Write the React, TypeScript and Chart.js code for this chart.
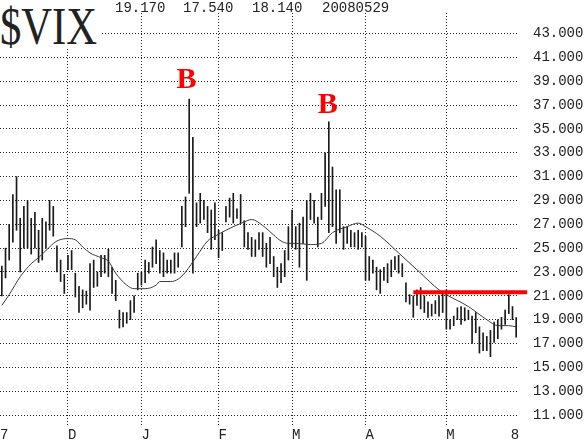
import React, { useEffect, useRef } from 'react';
import { Chart, registerables } from 'chart.js';

Chart.register(...registerables);

// Daily high / low of $VIX, 6 Nov 2007 .. 29 May 2008 (one entry per trading day)
const HIGHS = [
  23.5, 25.0, 27.0, 29.5, 31.0, 27.5, 28.5, 29.0, 27.5, 28.0, 26.5, 27.5, 27.2, 29.0, 28.5, 25.2, 24.0, 22.8,
  24.4, 24.8, 22.9, 21.8, 21.5, 21.4, 23.7, 24.0, 23.0, 24.4, 24.4, 24.9, 23.4, 22.3, 19.8, 19.6, 19.6, 20.6, 21.0, 22.9,
  23.0, 24.0, 23.8, 25.1, 25.7, 24.8, 24.6, 24.0, 24.0, 24.6, 24.6, 28.5, 29.3, 37.5, 34.3, 28.8, 29.6, 29.0, 28.5, 28.2, 28.8,
  26.5, 26.3, 28.5, 29.2, 29.6, 28.3, 29.5, 27.3, 26.3, 25.9, 25.7, 26.3, 26.3, 25.4, 25.9, 24.3, 23.4, 23.7, 24.8, 26.8,
  28.2, 26.8, 27.1, 27.6, 29.0, 29.6, 29.0, 27.6, 29.6, 33.0, 35.6, 31.8, 29.9, 29.9, 26.8, 26.8, 26.5, 26.3, 26.5, 26.3,
  26.0, 24.3, 24.0, 23.4, 23.2, 23.4, 23.7, 24.0, 24.3, 24.4, 23.7, 22.1, 21.1, 21.0, 21.5, 21.7, 21.0, 20.5, 20.3, 20.6, 21.0, 21.2,
  21.5, 19.0, 19.3, 20.0, 20.1, 20.0, 19.8, 19.3, 19.6, 18.4, 17.9, 17.6, 18.1, 18.8, 19.0, 19.2, 19.8, 21.1, 20.1, 19.17,
];
const LOWS = [
  21.0, 22.5, 24.0, 25.5, 26.5, 23.0, 25.0, 25.0, 24.5, 25.0, 23.8, 24.0, 25.0, 26.5, 26.0, 23.0, 22.2, 21.2,
  23.2, 23.2, 20.9, 19.6, 20.0, 20.3, 19.8, 21.7, 21.8, 22.6, 22.9, 22.6, 21.2, 20.6, 18.3, 18.4, 18.7, 19.0, 19.6, 21.5,
  21.9, 22.1, 22.9, 23.4, 23.7, 22.9, 22.6, 22.9, 22.9, 22.9, 23.4, 25.1, 26.8, 29.6, 22.9, 26.8, 27.1, 27.4, 26.3, 24.9, 25.7,
  24.2, 24.8, 27.2, 27.6, 27.1, 27.5, 27.1, 25.1, 24.9, 24.3, 24.3, 24.9, 24.3, 23.4, 23.7, 22.6, 21.7, 22.1, 22.6, 24.0,
  25.1, 24.9, 23.4, 25.4, 22.3, 27.4, 27.1, 25.1, 27.4, 28.5, 26.3, 26.8, 25.4, 26.3, 24.9, 25.4, 25.1, 25.1, 24.9, 25.1,
  22.3, 22.3, 22.9, 21.5, 21.2, 22.3, 22.1, 22.6, 23.2, 22.9, 22.6, 20.5, 20.3, 19.2, 20.2, 19.9, 19.6, 19.2, 19.3, 19.5, 19.3, 19.6,
  18.2, 18.2, 18.5, 19.0, 18.6, 18.9, 19.0, 17.0, 17.9, 16.2, 16.4, 16.4, 15.9, 17.1, 17.4, 18.2, 18.6, 19.5, 19.0, 17.54,
];

// 20-day moving average, read at selected bars
const MA_INDEX = [0, 2, 5, 8, 10, 13, 15, 18, 20, 22, 24, 27, 29, 31, 34, 36, 39, 42, 43, 46, 48, 50, 53, 56, 58, 61, 66, 68, 71, 74, 76, 78, 80, 84, 87, 90, 94, 97, 99, 103, 108, 114, 119, 121, 127, 132, 135, 138, 140];
const MA_VALUES = [20.2, 21.1, 22.6, 23.7, 24.2, 25.1, 25.6, 25.8, 25.7, 25.1, 24.6, 24.2, 23.9, 22.9, 21.9, 21.6, 21.6, 21.9, 22.2, 22.2, 22.4, 23.0, 24.3, 25.6, 26.0, 26.5, 27.2, 27.4, 26.9, 26.1, 25.6, 25.4, 25.4, 25.3, 25.4, 26.3, 26.8, 27.1, 26.8, 26.0, 24.6, 22.9, 21.5, 21.1, 20.1, 19.0, 18.5, 18.5, 18.4];

// x-axis month markers (bar index) and their labels
const MONTH_TICKS = [-0.5, 18, 38, 59, 79, 99, 121, 138.5];
const MONTH_LABELS = ['7', 'D', 'J', 'F', 'M', 'A', 'M', '8'];
const Y_TICKS = [11, 13, 15, 17, 19, 21, 23, 25, 27, 29, 31, 33, 35, 37, 39, 41, 43];

// red resistance line
const RES_LEVEL = 21.3;
const RES_FROM = 112;
const RES_TO = 143;

// "B" annotations (bar index, value at text baseline)
const MARK_LABELS = ['B', 'B'];
const MARK_INDEX = [50.3, 88.7];
const MARK_VALUE = [38.4, 36.3];

const HEADER = ['19.170', '17.540', '18.140', '20080529'];

const markPlugin = {
  id: 'bMarks',
  afterDatasetsDraw(chart: any) {
    const { ctx, scales } = chart;
    const x = scales.x;
    const y = scales.y;
    ctx.save();
    ctx.font = 'bold 30px "Liberation Serif"';
    ctx.fillStyle = '#ff0000';
    ctx.textAlign = 'center';
    ctx.textBaseline = 'alphabetic';
    MARK_LABELS.forEach((t, k) => {
      ctx.fillText(t, x.getPixelForValue(MARK_INDEX[k]), y.getPixelForValue(MARK_VALUE[k]));
    });
    ctx.restore();
  },
};

export default function App() {
  const ref = useRef<HTMLCanvasElement | null>(null);

  useEffect(() => {
    if (!ref.current) return;
    const gridColor = '#222';
    const chart = new Chart(ref.current, {
      type: 'bar',
      data: {
        datasets: [
          {
            type: 'line',
            data: [
              { x: RES_FROM, y: RES_LEVEL },
              { x: RES_TO, y: RES_LEVEL },
            ],
            borderColor: '#ff0000',
            borderWidth: 4,
            pointRadius: 0,
            clip: false,
            order: 0,
          } as any,
          {
            type: 'line',
            data: MA_INDEX.map((x, k) => ({ x, y: MA_VALUES[k] })),
            borderColor: '#3a3a3a',
            borderWidth: 1,
            pointRadius: 0,
            cubicInterpolationMode: 'monotone',
            order: 1,
          } as any,
          {
            type: 'bar',
            data: HIGHS.map((h, i) => ({ x: i, y: [LOWS[i], h] })),
            backgroundColor: '#1a1a1a',
            borderWidth: 0,
            barThickness: 1,
            order: 2,
          } as any,
        ],
      },
      options: {
        animation: false,
        responsive: false,
        layout: { padding: { top: 13, left: 0, right: 0, bottom: 0 } },
        plugins: { legend: { display: false }, tooltip: { enabled: false } },
        scales: {
          x: {
            type: 'linear',
            min: -0.5,
            max: 140.5,
            bounds: 'data',
            offset: false,
            afterBuildTicks: (s: any) => {
              s.ticks = MONTH_TICKS.map((v) => ({ value: v }));
            },
            afterFit: (s: any) => {
              s.height = 14;
              s.paddingLeft = 0;
              s.paddingRight = 0;
            },
            ticks: {
              autoSkip: false,
              maxRotation: 0,
              align: 'start',
              padding: 0,
              color: '#222',
              font: { family: '"Liberation Mono"', size: 14 },
              callback: (v: any) => {
                const k = MONTH_TICKS.indexOf(Number(v));
                return k >= 0 ? MONTH_LABELS[k] : '';
              },
            },
            grid: {
              offset: false,
              drawTicks: false,
              lineWidth: 1,
              color: (c: any) => {
                const v = c.tick ? c.tick.value : null;
                return v === MONTH_TICKS[0] || v === MONTH_TICKS[MONTH_TICKS.length - 1]
                  ? 'rgba(0,0,0,0)'
                  : gridColor;
              },
            },
            border: { display: false, dash: [1, 2] },
          },
          y: {
            type: 'linear',
            position: 'right',
            min: 10,
            max: 44.72,
            afterBuildTicks: (s: any) => {
              s.ticks = Y_TICKS.map((v) => ({ value: v }));
            },
            afterFit: (s: any) => {
              s.width = 70;
              s.paddingTop = 0;
              s.paddingBottom = 0;
            },
            ticks: {
              padding: 15,
              color: '#222',
              font: { family: '"Liberation Mono"', size: 14 },
              callback: (v: any) => Number(v).toFixed(3),
            },
            grid: { drawTicks: false, lineWidth: 1, color: gridColor },
            border: { display: false, dash: [1, 2] },
          },
        },
      } as any,
      plugins: [markPlugin],
    });
    return () => chart.destroy();
  }, []);

  const headerLeft = [115, 183, 252, 322];

  return (
    <div style={{ position: 'fixed', left: 0, top: 0, width: 588, height: 441, background: '#fff', overflow: 'hidden' }}>
      <canvas ref={ref} width={588} height={441} style={{ position: 'absolute', left: 0, top: 0 }} />
      <div
        style={{
          position: 'absolute',
          left: 0,
          top: 5,
          width: 100,
          height: 44,
          background: '#fff',
          overflow: 'hidden',
        }}
      >
        <span
          style={{
            display: 'block',
            fontFamily: '"Liberation Serif", serif',
            fontSize: 52,
            lineHeight: '44px',
            color: '#222',
            whiteSpace: 'nowrap',
            transform: 'scaleX(0.82)',
            transformOrigin: '0 0',
          }}
        >
          $VIX
        </span>
      </div>
      {HEADER.map((t, k) => (
        <div
          key={k}
          style={{
            position: 'absolute',
            left: headerLeft[k],
            top: 2,
            fontFamily: '"Liberation Mono", monospace',
            fontSize: 14,
            lineHeight: '13px',
            color: '#222',
            whiteSpace: 'nowrap',
          }}
        >
          {t}
        </div>
      ))}
    </div>
  );
}
